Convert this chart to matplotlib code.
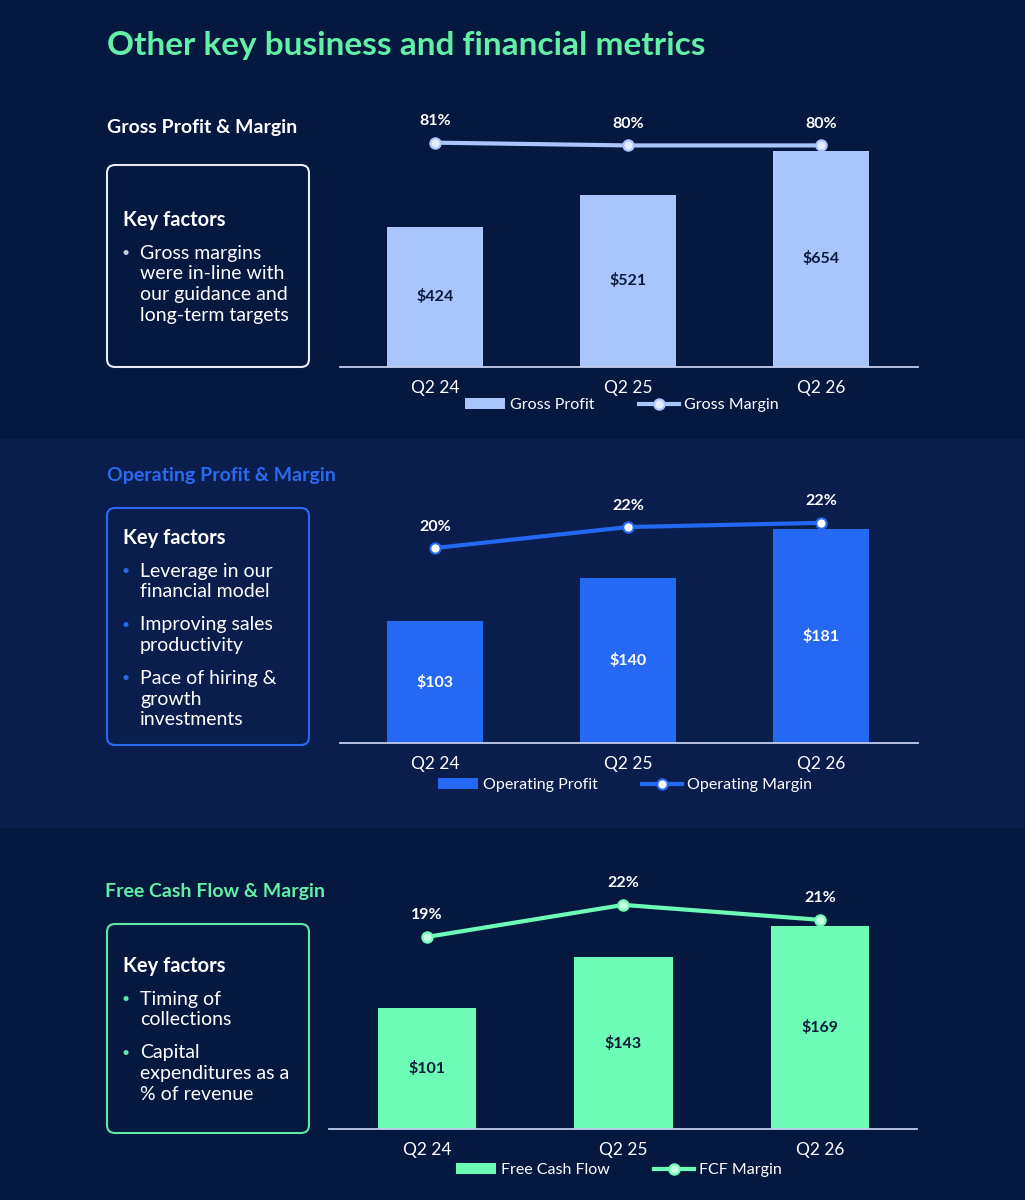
import numpy as np
import matplotlib.pyplot as plt
from matplotlib.patches import FancyBboxPatch, Rectangle

plt.rcParams['font.family'] = ['Lato', 'DejaVu Sans']

quarters = ['Q2 24', 'Q2 25', 'Q2 26']

gross_profit = [424, 521, 654]
gross_margin = [81, 80, 80]
op_profit = [103, 140, 181]
op_margin = [20.0, 22.0, 22.4]
fcf = [101, 143, 169]
fcf_margin = [19.0, 22.0, 20.6]

title = 'Other key business and financial metrics'
panel_titles = ['Gross Profit & Margin', 'Operating Profit & Margin', 'Free Cash Flow & Margin']
bar_names = ['Gross Profit', 'Operating Profit', 'Free Cash Flow']
line_names = ['Gross Margin', 'Operating Margin', 'FCF Margin']
bullets = [
    [['Gross margins', 'were in-line with', 'our guidance and', 'long-term targets']],
    [['Leverage in our', 'financial model'], ['Improving sales', 'productivity'],
     ['Pace of hiring &', 'growth', 'investments']],
    [['Timing of', 'collections'], ['Capital', 'expenditures as a', '% of revenue']],
]

W, H = 1025, 1200
bg = '#041840'
band = '#0a1e4d'
mint = '#62f0a6'

fig = plt.figure(figsize=(W / 100, H / 100), dpi=100)
fig.patch.set_facecolor(bg)

# pixel-space overlay for backgrounds, boxes and side text
pax = fig.add_axes([0, 0, 1, 1])
pax.set_xlim(0, W)
pax.set_ylim(H, 0)
pax.axis('off')
pax.add_patch(Rectangle((0, 0), W, H, color=bg, zorder=0))
pax.add_patch(Rectangle((0, 439), W, 388, color=band, zorder=0))

pax.text(107, 45, title, color=mint, fontsize=24, fontweight='bold', va='center')

panels = [
    dict(bars=gross_profit, line=gross_margin, x0=340, x1=918, top=100, base=367,
         xlim=(-0.492, 2.503), ymax=807, ylim2=(0, 96.4),
         bar_c='#a8c5fc', line_c='#a8c5fc', mfc='#e4ecff', val_c='#0a1a3d',
         box=(107, 165, 202, 202), box_c='#e6eaf3', head=(107, 127), head_c='white',
         key_y=220, dot_c='#c9cfdc', leg=(622, 405)),
    dict(bars=op_profit, line=op_margin, x0=340, x1=918, top=480, base=743,
         xlim=(-0.492, 2.503), ymax=222.6, ylim2=(1.43, 26.48),
         bar_c='#2468f4', line_c='#2468f4', mfc='white', val_c='white',
         box=(107, 508, 202, 237), box_c='#2a6af0', head=(107, 475), head_c='#2a6af0',
         key_y=538, dot_c='#2a6af0', leg=(625, 785)),
    dict(bars=fcf, line=fcf_margin, x0=329, x1=917, top=870, base=1129,
         xlim=(-0.499, 2.494), ymax=215.7, ylim2=(1.0, 25.27),
         bar_c='#6cfcb5', line_c='#6cfcb5', mfc='#c9ffe3', val_c='#0a1a3d',
         box=(107, 924, 202, 209), box_c='#5fe6a8', head=(105, 891), head_c=mint,
         key_y=966, dot_c='#5fe6a8', leg=(619, 1170)),
]

for i, p in enumerate(panels):
    # left side: heading, key factors box
    pax.text(p['head'][0], p['head'][1], panel_titles[i], color=p['head_c'],
             fontsize=14, fontweight='bold', va='center')
    bx, by, bw, bh = p['box']
    pax.add_patch(FancyBboxPatch((bx, by), bw, bh, boxstyle='round,pad=0,rounding_size=8',
                                 facecolor='none', edgecolor=p['box_c'], lw=1.5))
    pax.text(123, p['key_y'], 'Key factors', color='white', fontsize=14.5,
             fontweight='bold', va='center')
    y = p['key_y'] + 33
    for item in bullets[i]:
        pax.text(126, y, '\u2022', color=p['dot_c'], fontsize=10, va='center', ha='center')
        for ln in item:
            pax.text(140, y, ln, color='white', fontsize=14, va='center')
            y += 20.7
        y += 12.3

    # chart
    rect = [p['x0'] / W, 1 - p['base'] / H, (p['x1'] - p['x0']) / W, (p['base'] - p['top']) / H]
    ax = fig.add_axes(rect)
    ax.patch.set_visible(False)
    x = np.arange(len(quarters))
    bars = ax.bar(x, p['bars'], width=0.5, color=p['bar_c'], label=bar_names[i])
    for xi, v in zip(x, p['bars']):
        ax.text(xi, v / 2, '\\$%d' % v, color=p['val_c'], fontsize=11.5,
                fontweight='bold', ha='center', va='center')
    ax.set_xlim(*p['xlim'])
    ax.set_ylim(0, p['ymax'])
    ax.set_xticks(x, quarters)
    ax.tick_params(axis='x', length=0, pad=9, labelcolor='white', labelsize=12.5)
    ax.set_yticks([])
    for s in ['top', 'left', 'right']:
        ax.spines[s].set_visible(False)
    ax.spines['bottom'].set_color('#c3cdef')
    ax.spines['bottom'].set_linewidth(1.3)

    ax2 = ax.twinx()
    ax2.patch.set_visible(False)
    ln, = ax2.plot(x, p['line'], color=p['line_c'], lw=3, marker='o', markersize=7.5,
                   markerfacecolor=p['mfc'], markeredgecolor=p['line_c'], mew=1.5,
                   label=line_names[i])
    for xi, v in zip(x, p['line']):
        ax2.annotate('%d%%' % round(v), (xi, v), xytext=(0, 15.5), textcoords='offset points',
                     color='white', fontsize=11.5, fontweight='bold', ha='center', va='center')
    ax2.set_ylim(*p['ylim2'])
    ax2.set_yticks([])
    for s in ax2.spines.values():
        s.set_visible(False)

    ax2.legend([bars, ln], [bar_names[i], line_names[i]], loc='center',
               bbox_to_anchor=(p['leg'][0] / W, 1 - p['leg'][1] / H),
               bbox_transform=fig.transFigure, ncol=2, frameon=False, fontsize=11.5,
               labelcolor='white', handlelength=2.5, handletextpad=0.3,
               columnspacing=2.8, borderpad=0)

fig.savefig('out.png', dpi=100, facecolor=bg)
